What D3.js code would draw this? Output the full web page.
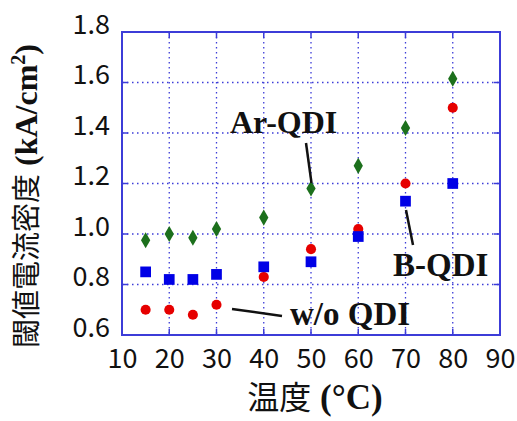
<!DOCTYPE html>
<html>
<head>
<meta charset="utf-8">
<script src="https://cdn.jsdelivr.net/npm/d3@7"></script>
<style>
  body { margin: 0; background: #fff; }
  svg { display: block; }
</style>
</head>
<body>
<div id="chart"></div>
<script>
const temps = [15, 20, 25, 30, 40, 50, 60, 70, 80];
const arQdi = [0.975, 1.0, 0.985, 1.02, 1.065, 1.18, 1.27, 1.42, 1.615];
const woQdi = [0.70, 0.70, 0.68, 0.72, 0.83, 0.94, 1.02, 1.20, 1.50];
const bQdi = [0.85, 0.82, 0.82, 0.84, 0.87, 0.89, 0.99, 1.13, 1.20];
const xTicks = [10, 20, 30, 40, 50, 60, 70, 80, 90];
const yTicks = [0.6, 0.8, 1.0, 1.2, 1.4, 1.6, 1.8];

const width = 517, height = 421;
const axisBlue = '#3c3cd8';

const svg = d3.select('#chart').append('svg')
  .attr('width', width)
  .attr('height', height);

const x = d3.scaleLinear().domain([10, 90]).range([122, 500]);
const y = d3.scaleLinear().domain([0.6, 1.8]).range([335, 32]);

// dotted grid
const grid = svg.append('g');
grid.selectAll('.vg')
  .data(xTicks.slice(1, -1))
  .enter().append('line')
  .attr('x1', d => x(d)).attr('x2', d => x(d))
  .attr('y1', y(1.8)).attr('y2', y(0.6))
  .attr('stroke', axisBlue).attr('stroke-width', 1.3)
  .attr('stroke-dasharray', '1.5,3.5');
grid.selectAll('.hg')
  .data(yTicks.slice(1, -1))
  .enter().append('line')
  .attr('x1', x(10)).attr('x2', x(90))
  .attr('y1', d => y(d)).attr('y2', d => y(d))
  .attr('stroke', axisBlue).attr('stroke-width', 1.3)
  .attr('stroke-dasharray', '1.5,3.5');

// inner tick marks on all four sides
const tl = 6;
xTicks.slice(1, -1).forEach(t => {
  svg.append('line').attr('x1', x(t)).attr('x2', x(t))
    .attr('y1', y(0.6)).attr('y2', y(0.6) - tl)
    .attr('stroke', axisBlue).attr('stroke-width', 1.5);
  svg.append('line').attr('x1', x(t)).attr('x2', x(t))
    .attr('y1', y(1.8)).attr('y2', y(1.8) + tl)
    .attr('stroke', axisBlue).attr('stroke-width', 1.5);
});
yTicks.slice(1, -1).forEach(t => {
  svg.append('line').attr('x1', x(10)).attr('x2', x(10) + tl)
    .attr('y1', y(t)).attr('y2', y(t))
    .attr('stroke', axisBlue).attr('stroke-width', 1.5);
  svg.append('line').attr('x1', x(90)).attr('x2', x(90) - tl)
    .attr('y1', y(t)).attr('y2', y(t))
    .attr('stroke', axisBlue).attr('stroke-width', 1.5);
});

// frame
svg.append('rect')
  .attr('x', x(10)).attr('y', y(1.8))
  .attr('width', x(90) - x(10)).attr('height', y(0.6) - y(1.8))
  .attr('fill', 'none').attr('stroke', axisBlue).attr('stroke-width', 2);

// axes (labels only)
const xAxis = svg.append('g')
  .attr('transform', 'translate(0,' + y(0.6) + ')')
  .call(d3.axisBottom(x).tickValues(xTicks).tickSize(0).tickPadding(14).tickFormat(d3.format('d')));
xAxis.select('.domain').remove();
xAxis.selectAll('text')
  .attr('font-family', '"Noto Sans CJK JP", "Noto Sans", sans-serif')
  .attr('font-size', 27).attr('fill', '#111');

const yAxis = svg.append('g')
  .attr('transform', 'translate(' + x(10) + ',0)')
  .call(d3.axisLeft(y).tickValues(yTicks).tickSize(0).tickPadding(12).tickFormat(d3.format('.1f')));
yAxis.select('.domain').remove();
yAxis.selectAll('text')
  .attr('font-family', '"Noto Sans CJK JP", "Noto Sans", sans-serif')
  .attr('font-size', 27).attr('fill', '#111')
  .attr('dy', '0.05em');

// series
const sym = (type, size) => d3.symbol().type(type).size(size)();
const pts = svg.append('g');
pts.selectAll('.ar').data(temps).enter().append('path')
  .attr('transform', (d, i) => 'translate(' + x(d) + ',' + y(arQdi[i]) + ')')
  .attr('d', sym(d3.symbolDiamond, 75))
  .attr('fill', '#1c701c');
pts.selectAll('.wo').data(temps).enter().append('path')
  .attr('transform', (d, i) => 'translate(' + x(d) + ',' + y(woQdi[i]) + ')')
  .attr('d', sym(d3.symbolCircle, 80))
  .attr('fill', '#e60000');
pts.selectAll('.b').data(temps).enter().append('path')
  .attr('transform', (d, i) => 'translate(' + x(d) + ',' + y(bQdi[i]) + ')')
  .attr('d', sym(d3.symbolSquare, 115))
  .attr('fill', '#0000e6');

// annotations
const serif = '"Liberation Serif", "Times New Roman", serif';
const note = (tx, ty, label, size, l) => {
  svg.append('line')
    .attr('x1', l[0]).attr('y1', l[1]).attr('x2', l[2]).attr('y2', l[3])
    .attr('stroke', '#111').attr('stroke-width', 2.5);
  svg.append('text').attr('x', tx).attr('y', ty)
    .attr('font-family', serif).attr('font-weight', 'bold')
    .attr('font-size', size).attr('fill', '#111')
    .text(label);
};
note(230, 133, 'Ar-QDI', 32, [306, 143, 311.5, 183]);
note(393, 276, 'B-QDI', 33, [406, 210, 413, 245]);
note(290, 325, 'w/o QDI', 33, [232, 309, 282, 316]);

// axis titles
const xt = svg.append('text')
  .attr('x', 315).attr('y', 409)
  .attr('text-anchor', 'middle').attr('fill', '#111');
xt.append('tspan').attr('font-family', '"Noto Sans CJK JP", sans-serif')
  .attr('font-size', 32).text('温度');
xt.append('tspan').attr('font-family', serif).attr('font-weight', 'bold')
  .attr('font-size', 35).text(' (°C)');

const yt = svg.append('text')
  .attr('transform', 'translate(37,196) rotate(-90)')
  .attr('text-anchor', 'middle').attr('fill', '#111');
yt.append('tspan').attr('font-family', '"Noto Sans CJK JP", sans-serif')
  .attr('font-size', 29).text('閾値電流密度');
yt.append('tspan').attr('font-family', serif).attr('font-weight', 'bold')
  .attr('font-size', 32).text(' (kA/cm');
yt.append('tspan').attr('font-family', serif).attr('font-weight', 'bold')
  .attr('font-size', 20).attr('dy', -12).text('2');
yt.append('tspan').attr('font-family', serif).attr('font-weight', 'bold')
  .attr('font-size', 32).attr('dy', 12).text(')');
</script>
</body>
</html>
